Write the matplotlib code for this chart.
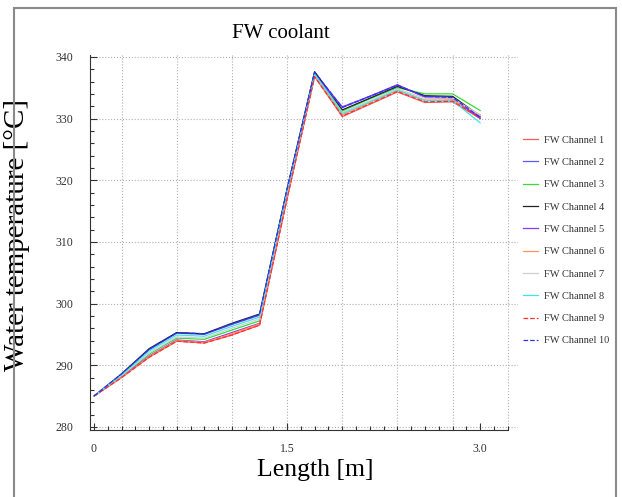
import numpy as np
import matplotlib
matplotlib.use("Agg")
from matplotlib import pyplot as plt
from matplotlib.patches import Rectangle

plt.rcParams['font.family'] = ['Liberation Serif', 'DejaVu Serif']

# positions along the first wall [m]
length = [0.0, 0.214, 0.429, 0.643, 0.857, 1.071, 1.286, 1.5,
          1.714, 1.929, 2.143, 2.357, 2.571, 2.786, 3.0]

# water temperature [C] for each channel
ch1 = [285, 288.0, 291.3, 293.9, 293.6, 294.9, 296.5, 317.0, 336.8, 330.3, 332.3, 334.3, 332.6, 332.7, 330.0]
ch2 = [285, 288.5, 292.5, 295.2, 295.0, 296.6, 298.1, 318.5, 337.5, 331.8, 333.6, 335.4, 333.6, 333.4, 330.2]
ch3 = [285, 288.2, 291.8, 294.4, 294.2, 295.7, 297.2, 317.8, 337.2, 331.2, 333.2, 335.0, 334.0, 334.0, 331.3]
ch4 = [285, 288.6, 292.7, 295.3, 295.1, 296.8, 298.3, 318.6, 337.6, 331.4, 333.3, 335.2, 333.7, 333.6, 330.4]
ch5 = [285, 288.1, 291.5, 294.1, 293.8, 295.3, 296.8, 317.2, 337.0, 331.9, 333.6, 335.5, 333.4, 333.2, 330.0]
ch6 = [285, 288.0, 291.4, 294.0, 293.7, 295.1, 296.7, 317.1, 336.9, 330.6, 332.6, 334.6, 333.0, 333.0, 330.6]
ch7 = [285, 288.3, 292.0, 294.6, 294.4, 296.0, 297.5, 318.0, 337.1, 331.0, 332.9, 334.8, 333.3, 333.3, 330.5]
ch8 = [285, 288.4, 292.3, 294.9, 294.7, 296.3, 297.8, 318.2, 337.2, 330.8, 332.7, 334.6, 332.9, 332.9, 329.3]
ch9 = [285, 288.0, 291.3, 293.9, 293.6, 294.9, 296.5, 317.0, 336.8, 330.4, 332.4, 334.4, 332.7, 332.8, 330.1]
ch10 = [285, 288.6, 292.6, 295.3, 295.1, 296.7, 298.2, 318.5, 337.5, 331.8, 333.6, 335.4, 333.6, 333.4, 330.2]

series = [ch1, ch2, ch3, ch4, ch5, ch6, ch7, ch8, ch9, ch10]
labels = ["FW Channel %d" % i for i in range(1, 11)]
colors = ['#ff5a5a', '#5a5aff', '#33dd33', '#222222', '#8a3cf0',
          '#ff9060', '#cfcfcf', '#40e6e6', '#ff3030', '#3030ff']
styles = ['-'] * 8 + ['--', '--']

W, H = 622, 497
fig = plt.figure(figsize=(W / 100, H / 100), dpi=100)
ax = fig.add_axes([90 / W, 1 - 430 / H, 428 / W, 375 / H])

# grid: vertical lines every second station, horizontal every 10 C
for xg in np.arange(1, 16, 2) * 3 / 14:
    ax.axvline(xg, color='#b0b0b0', lw=0.8, ls=':', zorder=0)
for yg in range(280, 341, 10):
    ax.axhline(yg, color='#b0b0b0', lw=0.8, ls=':', zorder=0)

for s, lab, c, st in zip(series, labels, colors, styles):
    ax.plot(length, s, color=c, ls=st, lw=0.9, label=lab)

ax.set_xlim(-0.031, 3.294)
ax.set_ylim(279.5, 340.3)
ax.set_xticks([0, 1.5, 3.0])
ax.set_xticklabels(["0", "1.5", "3.0"])
ax.set_xticks(np.arange(0, 3.25, 3 / 28), minor=True)
ax.set_yticks(range(280, 341, 10))
ax.set_yticks(range(280, 341, 2), minor=True)
ax.tick_params(which='both', direction='in', labelsize=8.5, colors='#333333', width=0.8)
ax.tick_params(which='major', length=5)
ax.tick_params(which='minor', length=3)
ax.tick_params(axis='y', pad=12)
ax.tick_params(axis='x', pad=9)
for sp in ['top', 'right']:
    ax.spines[sp].set_visible(False)
for sp in ['left', 'bottom']:
    ax.spines[sp].set_color('#333333')
ax.spines['bottom'].set_bounds(-0.031, 3.214)

fig.text(281 / W, 1 - 33 / H, "FW coolant", fontsize=15, ha='center', va='center')
ax.set_xlabel("Length [m]", fontsize=18.5)
ax.xaxis.set_label_coords((315 - 90) / 428, -(470 - 430) / 375)
ax.xaxis.label.set_va('center')
ax.set_ylabel("Water temperature [°C]", fontsize=21)
ax.yaxis.set_label_coords(-(90 - 17) / 428, (430 - 235) / 375)
ax.yaxis.label.set_va('center')

h, l = ax.get_legend_handles_labels()
fig.legend(h, l, loc='upper left', bbox_to_anchor=(514 / W, 1 - 126 / H),
           frameon=False, fontsize=7.5, handlelength=1.45, handletextpad=0.5,
           labelspacing=1.25, labelcolor='#333333')

fig.patches.append(Rectangle((14 / W, -0.01), 602 / W, 1 - 8 / H + 0.01,
                             transform=fig.transFigure, fill=False,
                             edgecolor='#8a8a8a', lw=1.5, zorder=0))

fig.savefig("out.png", dpi=100)
